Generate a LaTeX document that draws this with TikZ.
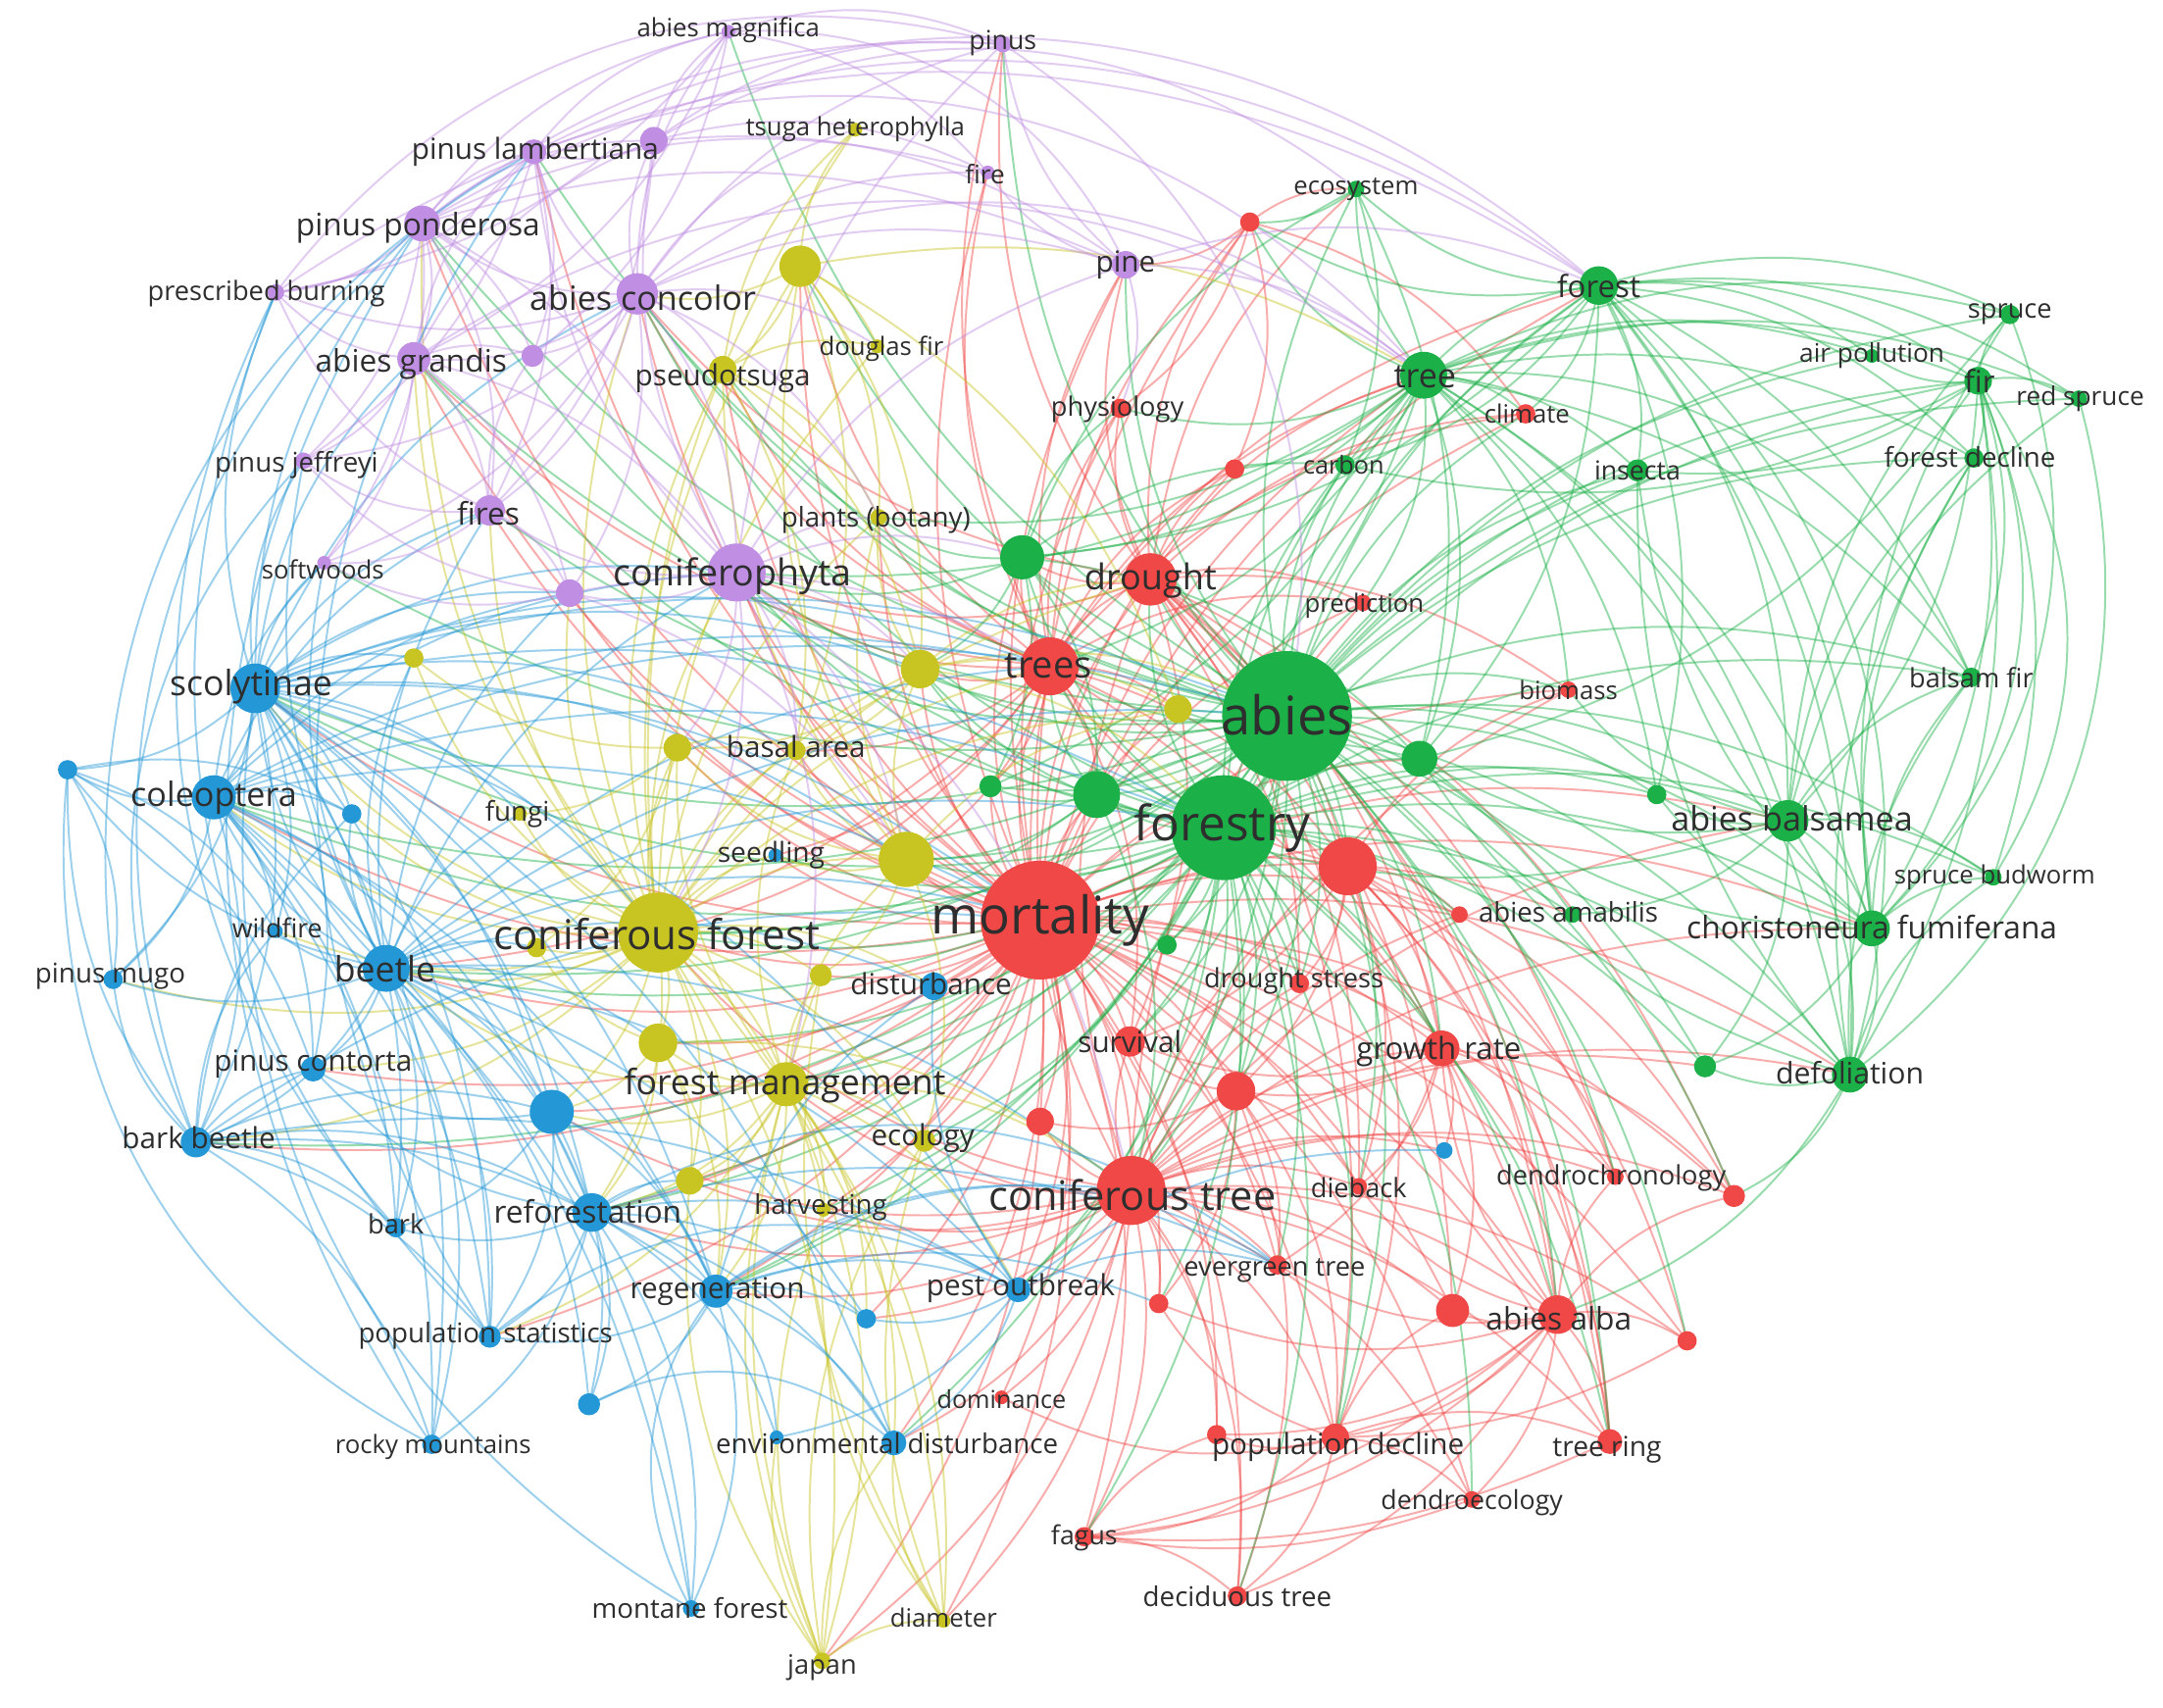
\documentclass[tikz,border=0pt]{standalone}
\usepackage{fontspec}
\setmainfont{Open Sans}

\definecolor{vred}{RGB}{240,72,70}
\definecolor{vgreen}{RGB}{28,176,72}
\definecolor{vblue}{RGB}{36,152,214}
\definecolor{vyel}{RGB}{200,196,34}
\definecolor{vpurp}{RGB}{192,142,226}

\pgfdeclarelayer{bg}
\pgfsetlayers{bg,main}

\tikzset{
  kw/.style={circle, inner sep=0pt, fill=#1, draw=none},
  lab/.style={font=\fontsize{#1}{#1}\selectfont, text=black!82, inner sep=0pt},
  lnk/.style={draw=#1, line width=0.4pt, draw opacity=0.45, bend left=20},
}

% one hub and all its links
\newcommand\hub[3]{\foreach \b in {#3} \draw[lnk=#2] (#1.center) to (\b.center);}

\begin{document}
\begin{tikzpicture}[x=0.01cm, y=-0.01cm]

\useasboundingbox (0,0) rectangle (1568,1238);

% Keyword circles
\foreach \nm/\x/\y/\rad/\col in {
  magn/528/23/5/vpurp, pinus/727/32/6/vpurp, lamb/387/110/9/vpurp, lambx/474/102/10/vpurp,
  fire/716/125/5/vpurp, pond/306/162/13/vpurp, presc/200/212/6/vpurp, conc/462/213/15/vpurp,
  purx1/386/258/8/vpurp, grand/300/260/12/vpurp, jeff/220/334/6/vpurp, fires/355/370/11/vpurp,
  softw/235/408/5/vpurp, purx2/413/430/10/vpurp, conif/534/415/21/vpurp, pine/816/192/10/vpurp,
  tsuga/620/94/5/vyel, yelx1/580/193/15/vyel, dougl/636/251/5/vyel, pseudo/524/268/10/vyel,
  plants/637/375/6/vyel, yelx2/300/477/7/vyel, yelx3/667/485/14/vyel, yelx10/854/514/10/vyel,
  basal/577/544/7/vyel, yelx4/491/542/10/vyel, fungi/377/590/5/vyel, yelx5/657/623/20/vyel,
  cfor/477/676/29/vyel, yelx6/389/687/7/vyel, yelx7/595/707/8/vyel, yelx8/477/756/14/vyel,
  fmgmt/570/786/16/vyel, ecol/670/827/8/vyel, yelx9/500/856/10/vyel, harv/597/877/5/vyel,
  diam/684/1175/5/vyel, japan/596/1204/6/vyel,
  scoly/185/499/18/vblue, blux1/49/558/7/vblue, coleo/155/578/16/vblue, blux2/255/590/7/vblue,
  seedl/562/620/5/vblue, wildf/200/675/5/vblue, beetle/280/702/17/vblue, mugo/82/710/7/vblue,
  distb/677/715/10/vblue, contor/227/775/9/vblue, blux3/400/806/16/vblue, bbeet/142/828/11/vblue,
  refor/429/879/14/vblue, bark/287/890/7/vblue, regen/519/936/12/vblue, pest/738/935/9/vblue,
  blux4/628/956/7/vblue, popst/355/969/8/vblue, blux5/427/1018/8/vblue, rocky/313/1047/7/vblue,
  blux6/563/1042/5/vblue, envd/648/1046/9/vblue, montane/501/1166/6/vblue, blux7/1047/834/6/vblue,
  mort/754/667/43/vred, trees/761/483/21/vred, drought/834/420/19/vred, physio/812/296/7/vred,
  redx1/906/161/7/vred, climate/1106/300/7/vred, redx2/895/340/7/vred, predic/988/437/6/vred,
  biomass/1137/500/6/vred, redx3/977/628/21/vred, redx11/1058/663/6/vred, dstress/942/713/7/vred,
  surv/819/755/11/vred, growth/1045/760/13/vred, redx4/896/791/14/vred, redx5/754/813/10/vred,
  ctree/820/863/25/vred, dieback/985/860/6/vred, dendro/1171/853/6/vred, redx6/1257/867/8/vred,
  evergr/926/917/7/vred, redx9/840/945/7/vred, redx7/1053/950/12/vred, alba/1129/953/14/vred,
  redx8/1223/972/7/vred, domin/726/1013/5/vred, redx10/882/1040/7/vred, popdec/968/1042/10/vred,
  ring/1167/1045/9/vred, dendroe/1067/1087/6/vred, fagus/786/1114/7/vred, decid/897/1157/7/vred,
  abies/933/519/47/vgreen, forestry/887/600/38/vgreen, greenx1/741/404/16/vgreen,
  greenx2/1029/550/13/vgreen, greenx3/718/570/8/vgreen, greenx4/795/576/17/vgreen,
  greenx5/846/685/7/vgreen, ecosys/983/137/6/vgreen, forest/1159/207/14/vgreen,
  tree/1032/272/17/vgreen, carbon/975/337/7/vgreen, insecta/1187/341/8/vgreen,
  spruce/1457/228/7/vgreen, airpol/1357/258/5/vgreen, fir/1434/276/10/vgreen,
  redspr/1507/289/6/vgreen, fdecl/1431/332/7/vgreen, balfir/1429/491/7/vgreen,
  greenx6/1201/576/7/vgreen, balsam/1296/595/15/vgreen, budw/1445/636/6/vgreen,
  amab/1140/663/6/vgreen, chor/1357/673/13/vgreen, greenx7/1236/773/8/vgreen,
  defol/1341/779/13/vgreen}
  \node[kw=\col, minimum size=\rad*0.2mm] (\nm) at (\x,\y) {};

% Keyword labels
\foreach \nm/\x/\y/\fs/\txt in {
  magn/528/22/5.2/abies magnifica, pinus/727/31/5.4/pinus, tsuga/620/94/5.2/tsuga heterophylla,
  lamb/388/110/6.0/pinus lambertiana, fire/714/126/5.3/fire, pond/303/165/6.4/pinus ponderosa,
  presc/193/213/5.5/prescribed burning, conc/466/216/6.9/abies concolor, pine/816/192/6.0/pine,
  grand/298/264/6.4/abies grandis, dougl/639/253/5.2/douglas fir, pseudo/524/274/6.0/pseudotsuga,
  jeff/215/337/5.6/pinus jeffreyi, fires/354/372/6.4/fires, softw/234/413/5.2/softwoods,
  conif/531/418/7.6/coniferophyta, plants/635/377/5.6/plants (botany),
  ecosys/983/137/5.2/ecosystem, forest/1159/207/6.3/forest, tree/1033/273/6.9/tree,
  physio/810/297/5.5/physiology, climate/1107/300/5.2/climate, carbon/974/337/5.1/carbon,
  insecta/1187/341/5.4/insecta, spruce/1457/228/5.5/spruce, airpol/1357/258/5.3/air pollution,
  fir/1435/276/6.3/fir, redspr/1508/289/5.3/red spruce, fdecl/1428/331/5.6/forest decline,
  drought/834/421/7.3/drought, predic/989/439/5.2/prediction, trees/760/483/7.7/trees,
  biomass/1137/500/5.2/biomass, balfir/1429/491/5.5/balsam fir, abies/933/518/11/abies,
  scoly/182/498/7.2/scolytinae, basal/577/541/6.0/basal area, coleo/155/578/6.9/coleoptera,
  fungi/375/590/5.6/fungi, seedl/559/620/5.7/seedling, forestry/886/600/10/forestry,
  balsam/1299/593/6.9/abies balsamea, budw/1446/636/5.2/spruce budworm,
  amab/1137/661/5.6/abies amabilis, chor/1357/672/6.4/choristoneura fumiferana,
  mort/754/667/10.7/mortality, cfor/476/677/8.5/coniferous forest, wildf/201/673/5.4/wildfire,
  beetle/279/702/7.2/beetle, mugo/80/708/5.6/pinus mugo, distb/675/713/6.0/disturbance,
  dstress/938/711/5.5/drought stress, surv/819/755/6.0/survival, growth/1043/762/6.3/growth rate,
  contor/227/771/6.0/pinus contorta, fmgmt/569/787/7.2/forest management,
  defol/1341/778/6.1/defoliation, bbeet/144/825/6.0/bark beetle, ecol/669/825/6.0/ecology,
  ctree/821/866/8.4/coniferous tree, dieback/985/861/5.5/dieback,
  dendro/1168/854/5.5/dendrochronology, refor/426/878/6.4/reforestation, bark/287/887/5.5/bark,
  harv/595/875/5.6/harvesting, evergr/924/921/5.5/evergreen tree, regen/520/936/6.0/regeneration,
  pest/740/934/6.0/pest outbreak, alba/1130/956/6.4/abies alba,
  popst/352/968/5.6/population statistics, domin/726/1014/5.1/dominance,
  rocky/314/1049/5.2/rocky mountains, envd/643/1046/5.6/environmental disturbance,
  popdec/970/1049/6.0/population decline, ring/1165/1051/5.7/tree ring,
  dendroe/1067/1089/5.4/dendroecology, fagus/786/1115/5.4/fagus, decid/897/1157/5.6/deciduous tree,
  montane/500/1166/5.6/montane forest, diam/684/1173/5.2/diameter, japan/596/1209/5.5/japan}
  \node[lab=\fs] (l\nm) at (\x,\y) {\txt};

\begin{pgfonlayer}{bg}
\fill[white] (0,0) rectangle (1568,1238);

% Red cluster links
\hub{mort}{vred}{trees, drought, ctree, cfor, fmgmt, redx3, greenx4, yelx5, yelx3, yelx10, distb, surv, growth, dstress, redx4, redx5, dieback, evergr, alba, redx7, redx8, redx9, domin, popdec, redx10, ring, dendroe, fagus, decid, physio, climate, predic, biomass, redx11, dendro, redx6, scoly, coleo, beetle, bbeet, refor, regen, pest, conc, conif, pond, grand, fires, tree, forest, balsam, chor, defol, greenx1, greenx2, greenx5, amab, yelx8, yelx9, ecol, harv, seedl, basal, yelx4, blux3, envd, blux4, popst, pine, plants, pseudo, greenx3, contor, diam, japan, redx1, redx2, yelx7, yelx1, lamb, purx2, fire}
\hub{ctree}{vred}{trees, drought, alba, redx7, redx8, redx6, dendro, dieback, evergr, redx9, domin, popdec, redx10, ring, dendroe, fagus, decid, growth, surv, redx4, redx5, dstress, redx3, redx11, cfor, fmgmt, regen, pest, blux4, envd, blux7, defol, greenx7, biomass, predic, ecol, harv, refor, diam, japan, chor, balsam, yelx9, blux3}
\hub{trees}{vred}{drought, physio, redx1, redx2, climate, predic, conif, greenx1, yelx3, yelx10, greenx4, greenx3, surv, growth, redx3, alba, tree, forest, conc, yelx5, basal, seedl, pine, yelx1, cfor, beetle, pinus, fire, pseudo, plants, grand}
\hub{drought}{vred}{physio, redx1, redx2, climate, predic, biomass, tree, growth, dstress, surv, redx3, greenx1, alba, popdec, ring, dendro, redx6, pine, conif, redx7, dieback, ecosys, pinus, conc}
\hub{redx3}{vred}{growth, alba, dstress, redx11, surv, redx4, dieback, ring, popdec, dendro, redx6, redx8, biomass, trees}
\hub{alba}{vred}{redx7, redx8, ring, dendroe, popdec, redx10, decid, fagus, dendro, redx6, dieback, growth, evergr, redx9}
\hub{growth}{vred}{blux7, dieback, dendro, redx6, ring, redx7, redx4, surv, evergr}
\hub{popdec}{vred}{redx10, dendroe, fagus, decid, ring, domin, redx9, redx7}
\hub{redx4}{vred}{surv, redx5, evergr, redx9, decid, popdec, dieback}
\hub{fagus}{vred}{decid, redx10}
\hub{redx1}{vred}{physio, redx2, ecosys, climate, pine}

% Green cluster links
\draw[lnk=vgreen, line width=1.4pt] (abies.center) to (forestry.center);
\hub{abies}{vgreen}{trees, drought, tree, forest, balsam, chor, defol, balfir, fir, spruce, fdecl, redspr, airpol, insecta, carbon, ecosys, greenx1, greenx2, greenx3, greenx4, greenx5, greenx6, greenx7, amab, budw, ctree, cfor, conif, conc, grand, pond, lamb, magn, scoly, coleo, beetle, fmgmt, growth, alba, redx3, predic, biomass, climate, physio, pine, pinus, yelx10, yelx3, yelx5, yelx1, pseudo, dieback, dendro, redx6, redx8, surv, redx4, dstress, popdec, ring, softw, fires, refor, regen, pest}
\hub{forestry}{vgreen}{trees, drought, tree, forest, ctree, cfor, fmgmt, balsam, chor, defol, greenx1, greenx2, greenx4, greenx5, greenx6, greenx7, amab, redx3, growth, alba, evergr, popdec, scoly, beetle, coleo, bbeet, refor, regen, conif, conc, yelx5, yelx3, yelx8, carbon, insecta, fir, balfir, budw, redx11, dstress, surv, redx4, redx9, decid, fagus, dendroe, ring, seedl, ecol, harv, pest, envd, pond, grand}
\hub{tree}{vgreen}{forest, ecosys, carbon, climate, insecta, fir, spruce, airpol, fdecl, redspr, balfir, balsam, greenx1, greenx2, physio, redx1, redx2, predic, biomass, greenx6, chor, defol, greenx4, greenx3, trees, plants, conif}
\hub{forest}{vgreen}{ecosys, carbon, climate, insecta, fir, spruce, airpol, fdecl, redspr, balfir, balsam, chor, defol, greenx2, greenx6, redx1, greenx1}
\hub{fir}{vgreen}{spruce, airpol, redspr, fdecl, balfir, balsam, chor, defol, budw, insecta, carbon, greenx2}
\hub{balsam}{vgreen}{chor, defol, budw, balfir, fdecl, greenx6, greenx7, greenx2, amab, spruce, redspr, biomass, greenx4}
\hub{chor}{vgreen}{defol, budw, balfir, greenx7, greenx6, fdecl, insecta, spruce, greenx2}
\hub{defol}{vgreen}{greenx7, budw, balfir, fdecl, insecta, redx6, alba, greenx2}
\hub{greenx1}{vgreen}{greenx4, greenx3, greenx2, carbon, ecosys, physio, plants, conif, yelx3}
\hub{greenx4}{vgreen}{greenx3, yelx5, yelx3, trees, ctree, cfor, greenx2}
\hub{ecosys}{vgreen}{redx1, carbon, greenx2}

% Yellow cluster links
\hub{cfor}{vyel}{yelx1, pseudo, dougl, tsuga, plants, yelx2, yelx3, basal, yelx4, fungi, yelx5, yelx6, yelx7, yelx8, fmgmt, ecol, yelx9, harv, diam, japan, yelx10, scoly, coleo, beetle, contor, bbeet, blux3, refor, regen, conc, conif, pond, grand, fires, purx2, trees, drought, distb, seedl, wildf, blux2, mugo}
\hub{fmgmt}{vyel}{yelx8, yelx9, harv, ecol, regen, refor, blux3, beetle, ctree, popst, envd, pest, blux4, japan, diam, basal, yelx5, yelx4, yelx7}
\hub{yelx5}{vyel}{yelx3, basal, yelx4, seedl, yelx7, ecol, yelx10, plants, yelx1, pseudo}
\hub{yelx3}{vyel}{yelx10, basal, yelx4, plants, drought, abies, forestry}
\hub{yelx8}{vyel}{blux3, refor, regen, yelx6, yelx9, ctree}
\hub{yelx1}{vyel}{pseudo, dougl, tsuga, plants, conc, yelx3, yelx10, basal, tree}
\hub{japan}{vyel}{diam, envd, blux6, ecol, harv, yelx9, fmgmt, yelx7}
\hub{diam}{vyel}{envd, harv, ecol, yelx7}
\hub{pseudo}{vyel}{dougl, tsuga, plants, yelx3, basal}
\hub{yelx4}{vyel}{basal, fungi, yelx2, yelx6}

% Blue cluster links
\hub{beetle}{vblue}{scoly, coleo, blux1, blux2, wildf, mugo, contor, bbeet, blux3, refor, bark, regen, popst, blux5, rocky, pest, blux4, fires, softw, jeff, conif, purx2, fungi, yelx6, yelx8, distb, montane, yelx2, mort, abies, forestry, ctree, trees}
\hub{scoly}{vblue}{coleo, blux1, blux2, wildf, mugo, contor, bbeet, blux3, refor, bark, popst, rocky, jeff, softw, fires, pond, presc, grand, conc, purx2, conif, yelx2, fungi, regen, pest, envd, mort, forestry, abies, trees, cfor, yelx5, yelx3, basal}
\hub{coleo}{vblue}{blux1, blux2, wildf, mugo, contor, bbeet, blux3, refor, bark, popst, rocky, softw, fires, purx2, conif, regen, montane, mort, abies, forestry, trees}
\hub{bbeet}{vblue}{contor, mugo, blux1, blux3, refor, bark, popst, rocky, regen, pest, wildf, blux2, mort}
\hub{refor}{vblue}{blux3, bark, regen, popst, blux5, rocky, envd, blux6, montane, pest, blux4, contor, yelx9, evergr}
\hub{regen}{vblue}{pest, blux4, popst, blux5, envd, blux6, montane, distb, redx9, ctree}
\hub{blux3}{vblue}{popst, blux5, regen, contor, bark}
\hub{blux1}{vblue}{mugo, contor, wildf, blux2}
\hub{pest}{vblue}{blux4, envd, blux6, distb, evergr, blux7}

% Purple cluster links
\hub{conc}{vpurp}{pond, lamb, lambx, magn, pinus, fire, presc, grand, purx1, jeff, fires, softw, purx2, conif, pine, pseudo, tsuga, dougl, plants}
\hub{pond}{vpurp}{lamb, lambx, magn, presc, grand, purx1, jeff, fires, softw, conif, pine, pinus, fire}
\hub{grand}{vpurp}{lamb, lambx, presc, purx1, jeff, fires, softw, purx2, conif}
\hub{conif}{vpurp}{fires, purx2, lamb, lambx, pine, pinus, plants, yelx3, basal, yelx4, greenx1, yelx5, cfor, fmgmt, ctree}
\hub{lambx}{vpurp}{magn, pinus, lamb, fire, pine, fires}
\hub{lamb}{vpurp}{magn, presc, jeff, purx1, fires}
\hub{magn}{vpurp}{pinus, fire, presc, grand, purx1}
\hub{fires}{vpurp}{softw, jeff, presc, purx2, purx1}
\hub{purx2}{vpurp}{softw, jeff, trees, yelx5}
\hub{pine}{vpurp}{pinus, fire, tree, forest, physio}

% Long outer arcs
\foreach \a/\b/\col in {lamb/forest/vpurp, lamb/tree/vpurp, lambx/ecosys/vpurp, magn/pine/vpurp,
  pond/forest/vpurp, conc/tree/vpurp, presc/forest/vpurp, popst/lamb/vblue, rocky/pond/vblue,
  montane/scoly/vblue, popst/presc/vblue, bbeet/jeff/vblue, rocky/blux1/vblue,
  forest/defol/vgreen, tree/balfir/vgreen, fir/chor/vgreen,
  pinus/abies/vpurp, montane/regen/vblue, mugo/lamb/vblue, bbeet/pond/vblue, bark/presc/vblue,
  presc/pinus/vpurp, grand/tree/vpurp, spruce/chor/vgreen, redspr/defol/vgreen, fir/budw/vgreen,
  refor/evergr/vblue, popst/pest/vblue, blux5/envd/vblue, regen/evergr/vblue}
  \draw[lnk=\col, bend left=34] (\a.center) to (\b.center);
\foreach \a/\b in {alba/fagus, redx8/popdec, ring/fagus, dendroe/fagus}
  \draw[lnk=vred, bend left=14] (\a.center) to (\b.center);
\end{pgfonlayer}

\end{tikzpicture}
\end{document}
